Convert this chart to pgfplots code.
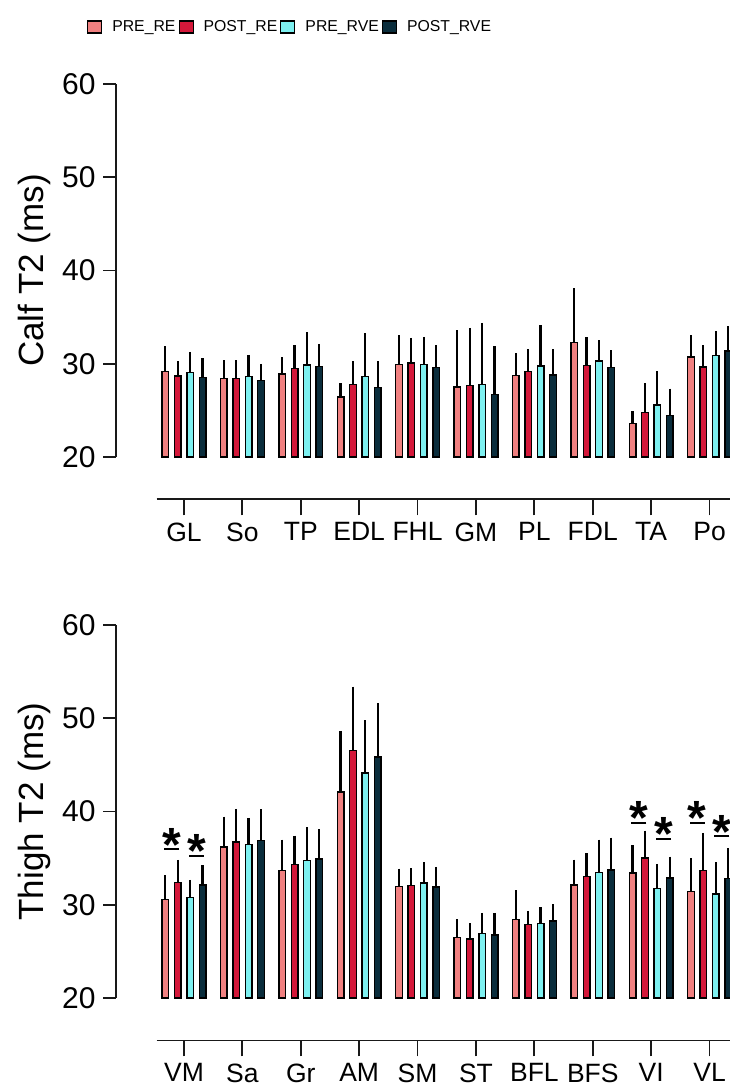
\documentclass[border=0pt]{standalone}
\usepackage{pgfplots}
\pgfplotsset{compat=1.18}
\usepackage{pgfplotstable}
\usepackage{fontspec}
\setmainfont{Liberation Sans}
\definecolor{cA}{HTML}{F08080}
\definecolor{cB}{HTML}{D4183A}
\definecolor{cC}{HTML}{7DF0F0}
\definecolor{cD}{HTML}{0A2D3C}

% columns: position of each bar (xa..xd), mean (a..d), upper SD (ea..ed)
\pgfplotstableread{
x xa xb xc xd a ea b eb c ec d ed
0 -0.3185 -0.1062 0.1062 0.3185 29.18 2.39 28.68 1.32 29.04 1.96 28.54 1.75
1 0.6815 0.8938 1.1062 1.3185 28.39 1.68 28.39 1.68 28.64 2.04 28.18 1.53
2 1.6815 1.8938 2.1062 2.3185 28.89 1.50 29.50 2.21 29.86 3.24 29.68 2.18
3 2.6815 2.8938 3.1062 3.3185 26.43 1.18 27.79 2.17 28.64 4.36 27.43 2.57
4 3.6815 3.8938 4.1062 4.3185 29.93 2.86 30.07 2.43 29.89 2.71 29.57 2.14
5 4.6815 4.8938 5.1062 5.3185 27.50 5.79 27.64 5.93 27.75 6.35 26.68 4.89
6 5.6815 5.8938 6.1062 6.3185 28.71 2.11 29.18 2.07 29.75 4.07 28.79 2.50
7 6.6815 6.8938 7.1062 7.3185 32.29 5.50 29.82 2.75 30.29 1.96 29.57 1.57
8 7.6815 7.8938 8.1062 8.3185 23.57 1.04 24.79 2.82 25.57 3.36 24.43 2.61
9 8.6815 8.8938 9.1062 9.3185 30.71 2.04 29.64 2.07 30.86 2.35 31.36 2.39
}\calf

\pgfplotstableread{
x xa xb xc xd a ea b eb c ec d ed
0 -0.3185 -0.1062 0.1062 0.3185 30.57 2.29 32.39 2.15 30.75 1.64 32.11 1.85
1 0.6815 0.8938 1.1062 1.3185 36.18 3.00 36.71 3.29 36.43 2.61 36.89 3.07
2 1.6815 1.8938 2.1062 2.3185 33.64 3.07 34.32 2.82 34.75 3.29 34.89 2.93
3 2.6815 2.8938 3.1062 3.3185 42.07 6.29 46.57 6.53 44.14 5.36 45.82 5.50
4 3.6815 3.8938 4.1062 4.3185 31.96 1.64 32.04 1.60 32.32 1.97 31.89 1.90
5 4.6815 4.8938 5.1062 5.3185 26.46 1.72 26.32 1.43 26.89 1.97 26.75 2.11
6 5.6815 5.8938 6.1062 6.3185 28.39 2.86 27.89 1.18 27.96 1.50 28.25 1.50
7 6.6815 6.8938 7.1062 7.3185 32.10 2.45 33.00 2.24 33.45 3.24 33.74 3.18
8 7.6815 7.8938 8.1062 8.3185 33.42 2.70 35.02 2.65 31.76 2.34 32.85 2.03
9 8.6815 8.8938 9.1062 9.3185 31.40 3.32 33.69 3.74 31.13 3.14 32.81 2.95
}\thigh

\pgfplotstableread{
x y
-0.212 35.95
0.212 35.23
7.788 38.80
8.212 37.05
8.788 38.80
9.212 37.35
}\stars

\pgfplotsset{
  barstyle/.style={ybar, bar width=6.5pt, bar shift=0pt, draw=black, line width=1.4pt,
    fill=#1,
    legend image code/.code={\draw[line width=1.1pt, draw=black, fill=#1] (0pt,-6pt) rectangle (14pt,6pt);},
    error bars/y dir=plus, error bars/y explicit, error bars/error mark=-,
    error bars/error bar style={line width=2.2pt, black},
    error bars/error mark options={line width=2.2pt, mark size=2.6pt, black}},
  baraxis/.style={
    x=58.4pt, y=9.325pt, xmin=-0.467, xmax=9.35, ymin=15.45, ymax=60,
    y coord trafo/.code={\pgfmathparse{##1-20}},
    y coord inv trafo/.code={\pgfmathparse{##1+20}},
    axis x line=bottom, axis y line=none,
    axis line style={-, line width=1.8pt, black!90},
    xtick={0,...,9}, ytick=\empty, tick align=outside, major tick length=16pt,
    xtick style={line width=1.8pt, black!90},
    xticklabel style={font=\fontsize{26.5}{30}\selectfont, inner sep=7pt},
    clip=true, anchor=south west},
  yaxis/.style={
    x=1pt, y=9.325pt, xmin=0, xmax=1, ymin=20, ymax=60,
    axis y line=left, axis x line=none,
    axis line style={-, line width=1.8pt, black!90},
    ytick={20,30,...,60}, xtick=\empty, tick align=outside, major tick length=13pt,
    ytick style={line width=1.8pt, black!90},
    yticklabel style={font=\fontsize{30}{36}\selectfont, xshift=-4pt},
    ylabel style={font=\fontsize{35}{40}\selectfont},
    ylabel shift=4pt,
    /pgf/number format/assume math mode=true,
    anchor=south west},
}

\begin{document}
\begin{tikzpicture}
\path[use as bounding box] (0,0) rectangle (730pt,1088pt);

% ---------- top panel (Calf) ----------
\begin{axis}[baraxis, at={(156.7pt,588.6pt)},
  xticklabels={GL,So,TP,EDL,FHL,GM,PL,FDL,TA,Po},
  legend columns=4,
  legend style={draw=none, fill=none, at={(-0.1216,1.1372)}, anchor=west, inner sep=0pt,
    font=\fontsize{15.8}{18}\selectfont,
    /tikz/every odd column/.append style={column sep=8pt},
    /tikz/every even column/.append style={column sep=1pt}},
  legend cell align=left]
\addplot[barstyle=cA] table[x=xa, y=a, y error=ea] {\calf};
\addlegendentry{PRE\_RE}
\addplot[barstyle=cB] table[x=xb, y=b, y error=eb] {\calf};
\addlegendentry{POST\_RE}
\addplot[barstyle=cC] table[x=xc, y=c, y error=ec] {\calf};
\addlegendentry{PRE\_RVE}
\addplot[barstyle=cD] table[x=xd, y=d, y error=ed] {\calf};
\addlegendentry{POST\_RVE}
\end{axis}
\begin{axis}[yaxis, at={(116pt,631pt)}, ylabel={Calf T2 (ms)}]
\end{axis}

% ---------- bottom panel (Thigh) ----------
\begin{axis}[baraxis, at={(156.7pt,47.6pt)},
  xticklabels={VM,Sa,Gr,AM,SM,ST,BFL,BFS,VI,VL}]
\addplot[barstyle=cA] table[x=xa, y=a, y error=ea] {\thigh};
\addplot[barstyle=cB] table[x=xb, y=b, y error=eb] {\thigh};
\addplot[barstyle=cC] table[x=xc, y=c, y error=ec] {\thigh};
\addplot[barstyle=cD] table[x=xd, y=d, y error=ed] {\thigh};
\addplot[only marks, mark=-, mark size=7.5pt, mark options={line width=2pt, black},
  nodes near coords={*},
  every node near coord/.append style={anchor=base, yshift=-12pt, inner sep=0pt,
    font=\fontsize{48}{52}\selectfont\bfseries, black}] table[x=x, y=y] {\stars};
\end{axis}
\begin{axis}[yaxis, at={(116pt,90pt)}, ylabel={Thigh T2 (ms)}]
\end{axis}
\end{tikzpicture}
\end{document}
